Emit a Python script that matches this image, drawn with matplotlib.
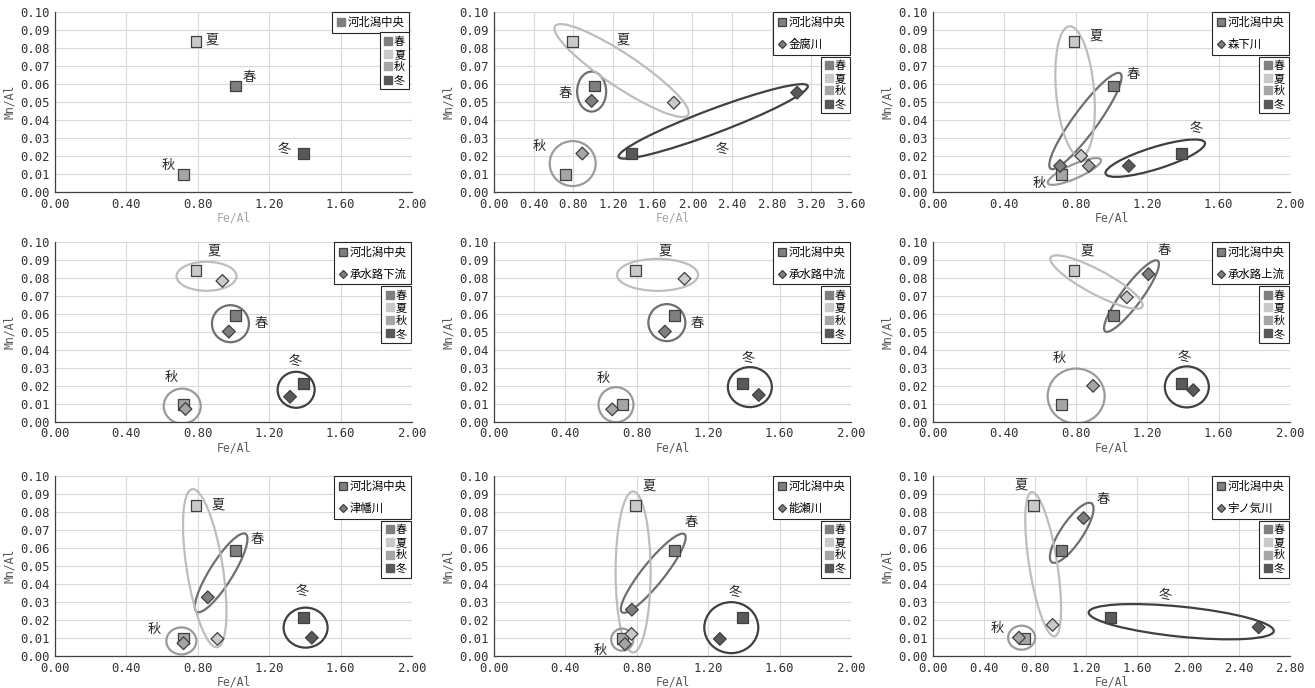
import matplotlib
matplotlib.use("Agg")
import matplotlib.pyplot as plt
import numpy as np
from matplotlib.lines import Line2D
from matplotlib.patches import Ellipse
from matplotlib.transforms import ScaledTranslation

plt.rcParams["font.family"] = ["Noto Sans CJK JP", "DejaVu Sans"]

seasons = ["春", "夏", "秋", "冬"]
season_colors = ["#7f7f7f", "#c9c9c9", "#a5a5a5", "#595959"]

# lagoon centre, shared by every panel
center_name = "河北潟中央"
center_fe = [1.01, 0.79, 0.72, 1.39]
center_mn = [0.059, 0.084, 0.0095, 0.0215]

# inflowing rivers (None for the first panel: lagoon only)
river_names = [None, "金腐川", "森下川", "承水路下流", "承水路中流",
               "承水路上流", "津幡川", "能瀬川", "宇ノ気川"]
river_fe = [
    None,
    [0.984, 1.813, 0.890, 3.056],
    [0.712, 0.830, 0.873, 1.097],
    [0.974, 0.938, 0.731, 1.317],
    [0.957, 1.067, 0.662, 1.483],
    [1.207, 1.086, 0.897, 1.458],
    [0.856, 0.910, 0.720, 1.439],
    [0.772, 0.770, 0.733, 1.265],
    [1.181, 0.938, 0.674, 2.554],
]
river_mn = [
    None,
    [0.0507, 0.0497, 0.0214, 0.0553],
    [0.0145, 0.0201, 0.0145, 0.0145],
    [0.0502, 0.0784, 0.0071, 0.0139],
    [0.0502, 0.0796, 0.0069, 0.0149],
    [0.0822, 0.0693, 0.0200, 0.0176],
    [0.0327, 0.0095, 0.0071, 0.0102],
    [0.0258, 0.0123, 0.0067, 0.0095],
    [0.0768, 0.0173, 0.0102, 0.0160],
]
x_max = [2.0, 3.6, 2.0, 2.0, 2.0, 2.0, 2.0, 2.0, 2.8]

# season label positions (data coords), order 春 夏 秋 冬
label_xy = [
    [(1.088, 0.0639), (0.882, 0.0844), (0.634, 0.0145), (1.287, 0.0237)],
    [(0.722, 0.0550), (1.300, 0.0847), (0.453, 0.0251), (2.300, 0.0238)],
    [(1.120, 0.0652), (0.912, 0.0866), (0.594, 0.0047), (1.476, 0.0354)],
    [(1.157, 0.0545), (0.892, 0.0952), (0.653, 0.0245), (1.345, 0.0338)],
    [(1.138, 0.0545), (0.959, 0.0952), (0.610, 0.0242), (1.422, 0.0353)],
    [(1.295, 0.0952), (0.864, 0.0952), (0.710, 0.0350), (1.407, 0.0361)],
    [(1.131, 0.0651), (0.916, 0.0842), (0.555, 0.0145), (1.383, 0.0359)],
    [(1.106, 0.0745), (0.869, 0.0946), (0.593, 0.0030), (1.350, 0.0355)],
    [(1.332, 0.0870), (0.692, 0.0953), (0.502, 0.0154), (1.823, 0.0340)],
]

# grouping rings: centre (data), length / width in px, angle in degrees
rings = [
    [],
    [(0.984, 0.0559, 40, 29, 90), (1.286, 0.0676, 160, 33, -33.7),
     (0.793, 0.0158, 46, 45, 0), (2.210, 0.0393, 202, 24, 20.6)],
    [(0.854, 0.0395, 118, 24, 53.8), (0.796, 0.0559, 131, 38, 95),
     (0.792, 0.0114, 58, 14, 24), (1.245, 0.0188, 104, 22, 17.3)],
    [(0.983, 0.0546, 37, 37, 0), (0.849, 0.0810, 60, 29, 0),
     (0.713, 0.0087, 37, 35, 0), (1.351, 0.0178, 37, 36, 0)],
    [(0.968, 0.0552, 37, 37, 0), (0.916, 0.0818, 81, 32, 0),
     (0.683, 0.0095, 35, 35, 0), (1.433, 0.0193, 44, 40, 0)],
    [(1.112, 0.0700, 88, 20, 53.3), (0.916, 0.0778, 104, 24, -28.2),
     (0.802, 0.0143, 57, 55, 0), (1.422, 0.0194, 44, 41, 0)],
    [(0.931, 0.0463, 92, 23, 57.9), (0.839, 0.0489, 160, 36, 99),
     (0.708, 0.0084, 30, 27, 0), (1.404, 0.0158, 44, 40, 0)],
    [(0.892, 0.0461, 100, 22, 51.3), (0.779, 0.0468, 161, 35, 90),
     (0.718, 0.0091, 22, 22, 0), (1.329, 0.0158, 54, 51, 0)],
    [(1.088, 0.0686, 71, 22, 56), (0.864, 0.0511, 146, 28, 99),
     (0.695, 0.0102, 27, 24, 0), (1.947, 0.0191, 186, 30, -5.8)],
]

ring_colors = ["#6f6f6f", "#bdbdbd", "#9a9a9a", "#404040"]
edge = "#404040"
mono = "DejaVu Sans Mono"

fig = plt.figure(figsize=(13.15, 6.88), dpi=100)
col_left = [0.0418, 0.3757, 0.7095]
row_bottom = [0.721, 0.387, 0.0465]
ax_w, ax_h = 0.2715, 0.261

for i in range(9):
    r, c = divmod(i, 3)
    ax = fig.add_axes([col_left[c], row_bottom[r], ax_w, ax_h])

    ax.set_xlim(0, x_max[i])
    ax.set_ylim(0, 0.1)
    xt = np.arange(0, x_max[i] + 0.01, 0.4)
    yt = np.arange(0, 0.1001, 0.01)
    ax.set_xticks(xt, labels=[f"{v:.2f}" for v in xt], fontfamily=mono, fontsize=8.8)
    ax.set_yticks(yt, labels=[f"{v:.2f}" for v in yt], fontfamily=mono, fontsize=8.8)
    ax.tick_params(length=0, pad=4, colors="#333333")
    ax.grid(color="#d9d9d9", lw=0.8)
    ax.set_axisbelow(True)
    for s in ["top", "right"]:
        ax.spines[s].set_visible(False)
    for s in ["left", "bottom"]:
        ax.spines[s].set_color("#404040")
        ax.spines[s].set_linewidth(0.9)

    xl_color = "#a6a6a6" if i < 2 else "#595959"
    ax.set_xlabel("Fe/Al", fontfamily=mono, fontsize=8.3, color=xl_color, labelpad=1)
    ax.set_ylabel("Mn/Al", fontfamily=mono, fontsize=8.3, color="#595959", labelpad=3)

    # grouping rings
    for (cx, cy, length, width, ang), col in zip(rings[i], ring_colors):
        tr = fig.dpi_scale_trans + ScaledTranslation(cx, cy, ax.transData)
        ax.add_patch(Ellipse((0, 0), length / 100, width / 100, angle=ang,
                             transform=tr, fill=False, ec=col, lw=1.6, zorder=2))

    ax.scatter(center_fe, center_mn, marker="s", s=62, c=season_colors,
               edgecolors=edge, linewidths=0.9, zorder=4)
    if river_names[i] is not None:
        ax.scatter(river_fe[i], river_mn[i], marker="D", s=42, c=season_colors,
                   edgecolors=edge, linewidths=0.9, zorder=4)

    for (lx, ly), name in zip(label_xy[i], seasons):
        ax.text(lx, ly, name, fontsize=9.5, color="#262626", ha="center", va="center", zorder=5)

    # site legend
    if river_names[i] is None:
        handles = [Line2D([], [], marker="s", ls="", ms=6, color="#7f7f7f")]
        names = [center_name]
        right = 0.992
    else:
        handles = [Line2D([], [], marker="s", ls="", ms=6, mfc="#7f7f7f", mec=edge, mew=0.9),
                   Line2D([], [], marker="D", ls="", ms=4.5, mfc="#7f7f7f", mec=edge, mew=0.9)]
        names = [center_name, river_names[i]]
        right = 0.997
    leg = ax.legend(handles, names, loc="upper right", bbox_to_anchor=(right, 1.0),
                    fontsize=8.2, frameon=True, fancybox=False, framealpha=1,
                    edgecolor="#262626", borderaxespad=0, borderpad=0.4,
                    handlelength=0.8, handletextpad=0.2, labelspacing=0.95)
    leg.get_frame().set_linewidth(0.8)
    ax.add_artist(leg)

    # season legend
    s_handles = [Line2D([], [], marker="s", ls="", ms=5.5, color=col) for col in season_colors]
    top = 0.888 if river_names[i] is None else 0.754
    leg2 = ax.legend(s_handles, seasons, loc="upper right", bbox_to_anchor=(right, top),
                     fontsize=8, frameon=True, fancybox=False, framealpha=1,
                     edgecolor="#262626", borderaxespad=0, borderpad=0.35,
                     handlelength=0.8, handletextpad=0.15, labelspacing=0.25)
    leg2.get_frame().set_linewidth(0.8)

fig.savefig("out.png", dpi=100)
